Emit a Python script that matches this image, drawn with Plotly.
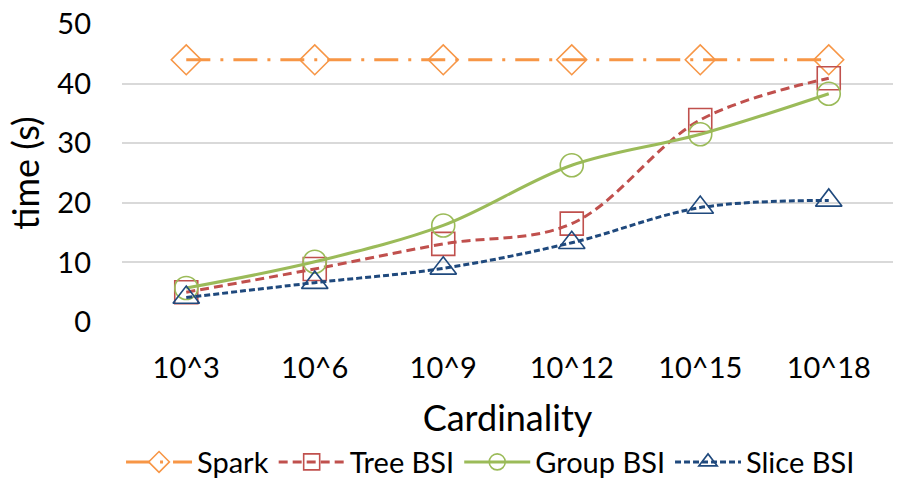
import plotly.graph_objects as go

categories = ["10^3", "10^6", "10^9", "10^12", "10^15", "10^18"]
spark = [44, 44, 44, 44, 44, 44]
tree_bsi = [5.0, 8.9, 13.1, 16.5, 33.9, 40.9]
group_bsi = [5.7, 10.1, 16.2, 26.3, 31.5, 38.3]
slice_bsi = [4.1, 6.6, 9.0, 13.3, 19.2, 20.4]

font_family = "Lato, 'Open Sans', sans-serif"

series = [
    ("Spark", spark, "#F79646", "diamond-open", "24px,10px,3px,10px"),
    ("Tree BSI", tree_bsi, "#C0504D", "square-open", "9px,5px"),
    ("Group BSI", group_bsi, "#9BBB59", "circle-open", "solid"),
    ("Slice BSI", slice_bsi, "#1F497D", "triangle-up-open", "6px,3px"),
]

fig = go.Figure()
for name, vals, color, sym, dash in series:
    fig.add_trace(go.Scatter(
        x=categories, y=vals, name=name, mode="lines+markers",
        line=dict(color=color, width=3, dash=dash, shape="spline", smoothing=1),
        marker=dict(symbol=sym, size=23, color=color, line=dict(color=color, width=1.6)),
    ))

fig.update_layout(
    width=899, height=482,
    margin=dict(l=122, r=6, t=24, b=160, autoexpand=False),
    paper_bgcolor="white", plot_bgcolor="white",
    font=dict(family=font_family, size=29, color="black"),
    showlegend=True,
    legend=dict(orientation="h", x=0.478, xanchor="center", y=-0.47, yanchor="middle",
                font=dict(size=29), itemwidth=66, traceorder="normal"),
)
fig.update_xaxes(
    type="category", range=[-0.5, 5.5], automargin=False,
    title=dict(text="Cardinality", font=dict(size=36), standoff=22),
    showgrid=False, zeroline=False, showline=False, ticks="",
    tickfont=dict(size=29), ticklabelstandoff=26,
)
fig.update_yaxes(
    range=[0, 50], dtick=10, automargin=False,
    title=dict(text="time (s)", font=dict(size=36), standoff=6),
    showgrid=True, gridcolor="#D9D9D9", gridwidth=1.5, zeroline=False,
    showline=False, ticks="", tickfont=dict(size=29), ticklabelstandoff=30,
)

fig.write_html("out.html")
